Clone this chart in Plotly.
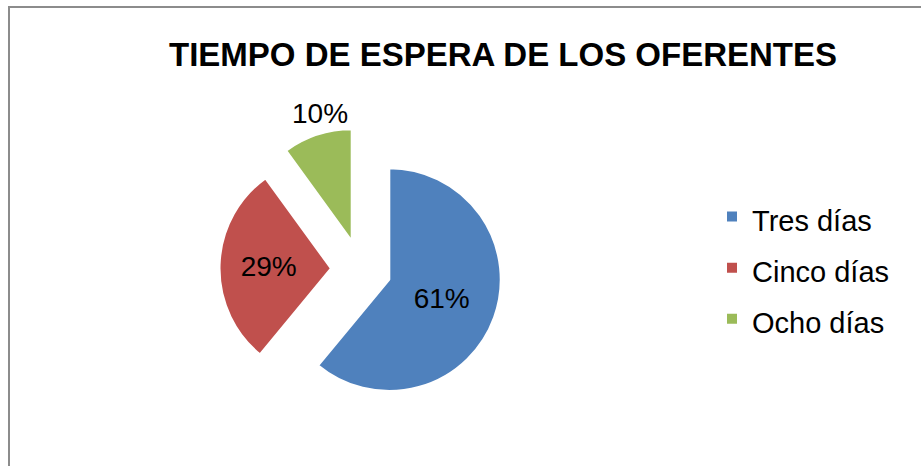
import math
import plotly.graph_objects as go

W, H = 921, 466

categories = ["Tres días", "Cinco días", "Ocho días"]
values = [61, 29, 10]
colors = ["#4F81BD", "#C0504D", "#9BBB59"]
text_positions = ["inside", "inside", "none"]
title_text = "TIEMPO DE ESPERA DE LOS OFERENTES"

FONT = "Liberation Sans, Arial, sans-serif"
PULL = 0.27

# pie box in pixels (square)
cx_px, cy_px, half = 361.0, 269.4, 141.5
radius_px = half / (1 + PULL)

legend_labels = [f'<span style="font-size:29px">{c}</span>' for c in categories]

fig = go.Figure(
    go.Pie(
        labels=legend_labels,
        values=values,
        sort=False,
        direction="clockwise",
        rotation=0,
        pull=[PULL] * len(values),
        marker=dict(colors=colors, line=dict(color="white", width=2)),
        textinfo="percent",
        texttemplate="%{percent:.0%}",
        textposition=text_positions,
        insidetextorientation="horizontal",
        textfont=dict(family=FONT, size=28, color="black"),
        insidetextfont=dict(family=FONT, size=28, color="black"),
        domain=dict(
            x=[(cx_px - half) / W, (cx_px + half) / W],
            y=[1 - (cy_px + half) / H, 1 - (cy_px - half) / H],
        ),
        hoverinfo="label+percent",
    )
)

# outside label for the last (small) slice, placed from its mid-angle
total = sum(values)
start = sum(values[:-1]) / total
mid_frac = start + values[-1] / total / 2
ang = 2 * math.pi * mid_frac  # clockwise from 12 o'clock
dist = radius_px * (1 + PULL) + 4
lx = cx_px + math.sin(ang) * dist + 4
ly = cy_px - math.cos(ang) * dist
pct = round(values[-1] / total * 100)

fig.update_layout(
    width=W,
    height=H,
    margin=dict(l=0, r=0, t=0, b=0),
    paper_bgcolor="white",
    plot_bgcolor="white",
    title=dict(
        text=f"<b>{title_text}</b>",
        x=503 / W,
        xanchor="center",
        y=1 - 54 / H,
        yanchor="middle",
        font=dict(family=FONT, size=33, color="black"),
    ),
    legend=dict(
        x=712 / W,
        xanchor="left",
        y=1 - 186 / H,
        yanchor="top",
        font=dict(family=FONT, size=37, color="black"),
        bgcolor="rgba(0,0,0,0)",
    ),
    annotations=[
        dict(
            text=f"{pct}%",
            x=lx / W,
            y=1 - ly / H,
            xref="paper",
            yref="paper",
            xanchor="center",
            yanchor="bottom",
            showarrow=False,
            font=dict(family=FONT, size=28, color="black"),
        )
    ],
    shapes=[
        dict(
            type="path",
            xref="paper",
            yref="paper",
            path=f"M {9 / W} -0.01 L {9 / W} {1 - 7 / H} L 1.01 {1 - 7 / H}",
            line=dict(color="#8c8c8c", width=2),
        )
    ],
)

fig.write_html(
    "out.html",
    config={"displayModeBar": False},
    post_script="document.body.style.margin='0';document.body.style.overflow='hidden';",
)
